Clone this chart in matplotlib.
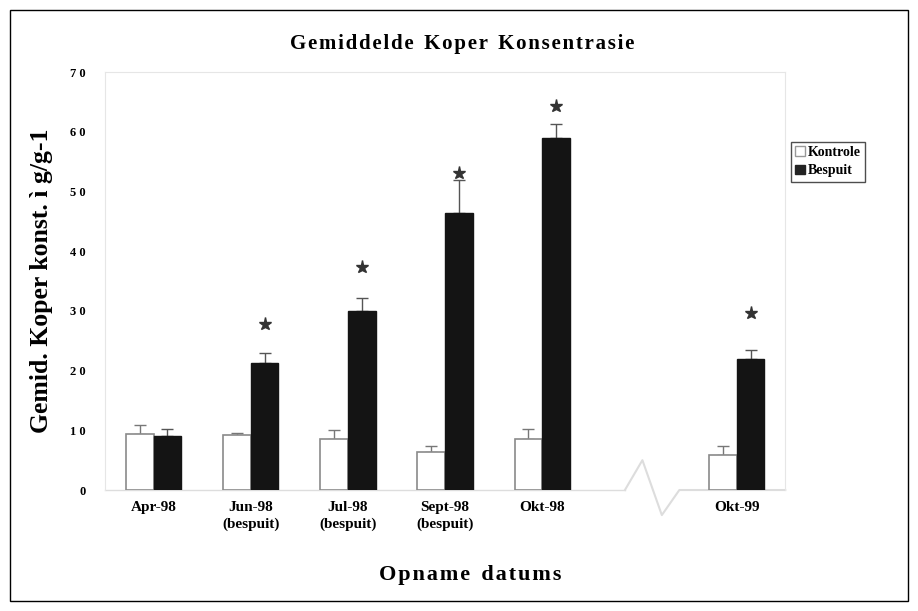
import matplotlib.pyplot as plt
from matplotlib.patches import Rectangle

plt.rcParams['font.family'] = ['Liberation Serif', 'DejaVu Serif']
plt.rcParams['font.weight'] = 'bold'

dates = ["Apr-98", "Jun-98\n(bespuit)", "Jul-98\n(bespuit)", "Sept-98\n(bespuit)", "Okt-98", "Okt-99"]
positions = [0, 1, 2, 3, 4, 6]
kontrole = [9.3, 9.2, 8.6, 6.4, 8.6, 5.9]
kontrole_err = [1.6, 0.3, 1.4, 1.0, 1.7, 1.5]
bespuit = [9.0, 21.2, 30.0, 46.4, 58.9, 21.9]
bespuit_err = [1.2, 1.7, 2.2, 5.5, 2.4, 1.5]
stars = [None, 27.8, 37.4, 53.1, 64.4, 29.7]

w = 0.285
hair = "\u200a"


def spaced(s):
    # a little letter spacing, like the original
    return hair.join(s)


fig = plt.figure(figsize=(9.18, 6.11), dpi=100)
ax = fig.add_axes([0.1144, 0.198, 0.741, 0.684])

kx = [p - w / 2 for p in positions]
bx = [p + w / 2 for p in positions]
ax.bar(kx, kontrole, w, color='white', edgecolor='#8a8a8a', linewidth=1.2, label='Kontrole', zorder=3)
ax.bar(bx, bespuit, w, color='#141414', edgecolor='#141414', linewidth=1, label='Bespuit', zorder=3)
ax.errorbar(kx, kontrole, yerr=[[0] * 6, kontrole_err], fmt='none', ecolor='#777777',
            elinewidth=1, capsize=4, zorder=2)
ax.errorbar(bx, bespuit, yerr=[[0] * 6, bespuit_err], fmt='none', ecolor='#555555',
            elinewidth=1, capsize=4, zorder=2)

sx = [b for b, s in zip(bx, stars) if s is not None]
sy = [s for s in stars if s is not None]
ax.plot(sx, sy, linestyle='none', marker='*', markersize=9.5, color='#333333', zorder=4)

ax.set_xlim(-0.5, 6.5)
ax.set_ylim(0, 70)
ax.set_yticks(range(0, 71, 10))
ax.set_yticklabels([" ".join(str(v)) for v in range(0, 71, 10)], fontsize=9, fontweight='bold')
ax.set_xticks(positions)
ax.set_xticklabels(dates, fontsize=11, fontweight='bold', linespacing=1.3)
ax.tick_params(length=0, pad=8)
ax.tick_params(axis='y', pad=14)

for s in ['left', 'right', 'top']:
    ax.spines[s].set_color('#e6e6e6')
ax.spines['bottom'].set_visible(False)

# bottom axis line with break marker
ax.plot([-0.5, 4.85], [0, 0], color='#dddddd', lw=1, clip_on=False, zorder=1)
ax.plot([4.85, 5.03, 5.23, 5.41, 6.5], [0, 5.0, -4.2, 0, 0], color='#dddddd', lw=1.5,
        clip_on=False, zorder=1)

ax.set_ylabel("Gemid. Koper konst. ì g/g-1", fontsize=18.5, fontweight='bold', labelpad=12)
ax.set_xlabel(spaced("Opname") + "  " + spaced("datums"), fontsize=16, fontweight='bold')
ax.xaxis.set_label_coords(0.537, -0.203)
ax.xaxis.label.set_va('center')
title = "  ".join(spaced(word) for word in "Gemiddelde Koper Konsentrasie".split())
fig.text(0.503, 0.928, title, ha='center', va='center', fontsize=15, fontweight='bold')

handles = [Rectangle((0, 0), 1, 1, facecolor='white', edgecolor='#999999'),
           Rectangle((0, 0), 1, 1, facecolor='#222222', edgecolor='#222222')]
leg = fig.legend(handles, ['Kontrole', 'Bespuit'], loc='upper left',
                 bbox_to_anchor=(0.862, 0.768), fontsize=10, frameon=True, fancybox=False,
                 handlelength=0.7, handleheight=0.7, handletextpad=0.2, borderpad=0.3,
                 labelspacing=0.4, borderaxespad=0)
leg.get_frame().set_edgecolor('#222222')
leg.get_frame().set_linewidth(1)

fig.patches.append(Rectangle((0.011, 0.016), 0.978, 0.968, transform=fig.transFigure,
                             fill=False, edgecolor='black', linewidth=1))

fig.savefig('out.png', dpi=100)
